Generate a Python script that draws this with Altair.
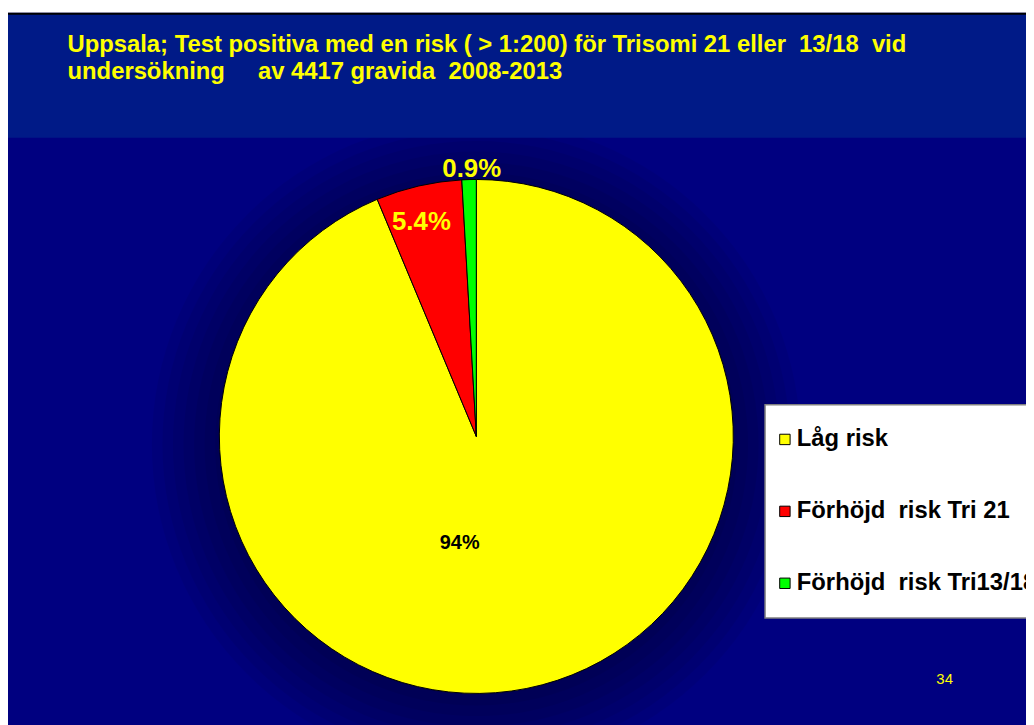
import altair as alt
import pandas as pd

NB = "\u00a0"
categories = ["Låg risk", "Förhöjd" + NB + " risk Tri 21", "Förhöjd" + NB + " risk Tri13/18"]
values = [93.7, 5.4, 0.9]
labels = ["94%", "5.4%", "0.9%"]
colors = ["#FFFF00", "#FF0000", "#00FF00"]
title_lines = [
    "Uppsala; Test positiva med en risk ( > 1:200) för Trisomi 21 eller" + NB + " 13/18" + NB + " vid",
    "undersökning" + NB * 4 + " av 4417 gravida" + NB + " 2008-2013",
]
page_no = "34"

df = pd.DataFrame({"cat": categories, "value": values, "label": labels, "order": [0, 1, 2]})
one = pd.DataFrame({"a": [0]})

W, H = 1026, 717
CX, CY = 472, 429
R = 259
FONT = "Liberation Sans"

def rect(color, x, x2, y, y2, **kw):
    return alt.Chart(one).mark_rect(color=color, **kw).encode(
        x=alt.value(x), x2=alt.value(x2), y=alt.value(y), y2=alt.value(y2))

bg = rect("#000080", -2, W + 10, 2, H + 10)

halo_layers = []
for i in range(9):
    r = R + 110 - i * 12
    halo_layers.append(
        alt.Chart(one).mark_circle(color="black", opacity=0.05, strokeWidth=0).encode(
            x=alt.value(CX), y=alt.value(CY + 8), size=alt.value(3.14159 * r * r)))

band = rect("#001A87", -2, W + 10, 3, 128)
border_l = rect("black", -2, 0, 2, H + 10)
border_t = rect("black", -2, W + 10, 2, 4)

title = alt.Chart(pd.DataFrame({"t": title_lines, "i": [0, 1]})).mark_text(
    align="left", baseline="alphabetic", font=FONT, fontSize=24, fontWeight="bold",
    color="#FFFF00").encode(
    x=alt.value(60),
    y=alt.Y("i:Q", scale=alt.Scale(domain=[0, 1], range=[42, 69]), axis=None),
    text="t:N")

base = alt.Chart(df).encode(
    theta=alt.Theta("value:Q", stack=True),
    order=alt.Order("order:Q"),
    x=alt.value(CX), y=alt.value(CY),
)
pie = base.mark_arc(radius=R, stroke="black", strokeWidth=1).encode(
    color=alt.Color("cat:N", scale=alt.Scale(domain=categories, range=colors), legend=None))

def lab(idx, radius, dx, dy, size, color):
    return base.transform_calculate(
        t=f"datum.order == {idx} ? datum.label : ''").mark_text(
        radius=radius, dx=dx, dy=dy, font=FONT, fontSize=size, fontWeight="bold",
        color=color, baseline="middle", align="center").encode(text="t:N")

lab_y = lab(0, 108, -38, 2, 20, "black")
lab_r = lab(1, 220, -6, -2, 26, "#FFFF00")
lab_g = lab(2, 270, 3, 0, 26, "#FFFF00")

leg_box = rect("white", 763, W + 10, 397, 612, stroke="#808080", strokeWidth=1.5)
leg_y = alt.Y("order:Q", scale=alt.Scale(domain=[0, 2], range=[432, 577]), axis=None)
leg_sq = alt.Chart(df).mark_square(size=110, stroke="black", strokeWidth=1, opacity=1).encode(
    x=alt.value(783), y=leg_y,
    color=alt.Color("cat:N", scale=alt.Scale(domain=categories, range=colors), legend=None))
leg_tx = alt.Chart(df).mark_text(align="left", baseline="middle", font=FONT, fontSize=24,
                                 fontWeight="bold", color="black").encode(
    x=alt.value(795), y=leg_y, text="cat:N")

pg = alt.Chart(pd.DataFrame({"t": [page_no]})).mark_text(
    font=FONT, fontSize=15, color="#FFFF00", align="center", baseline="middle").encode(
    x=alt.value(944), y=alt.value(673), text="t:N")

chart = alt.layer(
    bg, *halo_layers, band, border_l, border_t, title, pie, lab_y, lab_r, lab_g,
    leg_box, leg_sq, leg_tx, pg
).resolve_scale(y="independent").properties(
    width=W, height=H, padding=0, autosize=alt.AutoSizeParams(type="none"),
    background="white"
).configure_view(stroke=None)

chart.save("out.html", embed_options={"renderer": "svg", "actions": False})
